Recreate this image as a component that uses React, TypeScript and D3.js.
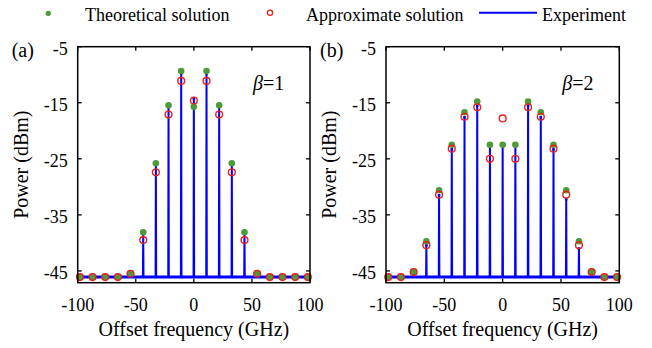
import React from 'react';
import * as d3 from 'd3';

// comb line offsets (GHz), n = -9..9
const freqs = [-98.1, -87.2, -76.3, -65.4, -54.5, -43.6, -32.7, -21.8, -10.9, 0, 10.9, 21.8, 32.7, 43.6, 54.5, 65.4, 76.3, 87.2, 98.1];

// beta = 1
const theoryA = [-46.1, -46.1, -46.1, -46.1, -45.4, -38.1, -25.8, -15.45, -9.33, -15.7, -9.33, -15.45, -25.8, -38.1, -45.4, -46.1, -46.1, -46.1, -46.1];
const approxA = [-46.1, -46.1, -46.1, -46.1, -45.5, -39.5, -27.4, -17.1, -11.1, -14.6, -11.1, -17.1, -27.4, -39.5, -45.5, -46.1, -46.1, -46.1, -46.1];
const experA = [-46.1, -46.1, -46.1, -46.1, -45.6, -38.4, -26.1, -15.6, -9.75, -14.2, -9.75, -15.6, -26.1, -38.4, -45.6, -46.1, -46.1, -46.1, -46.1];

// beta = 2
const theoryB = [-46.1, -46.1, -45.1, -39.7, -30.6, -22.5, -16.7, -14.8, -22.5, -22.5, -22.5, -14.8, -16.7, -22.5, -30.6, -39.7, -45.1, -46.1, -46.1];
const approxB = [-46.1, -46.1, -45.2, -40.4, -31.4, -23.2, -17.5, -15.8, -25.0, -17.8, -25.0, -15.8, -17.5, -23.2, -31.4, -40.4, -45.2, -46.1, -46.1];
const experB = [-46.1, -46.1, -45.4, -40.4, -31.5, -23.3, -17.6, -15.5, -22.6, -22.6, -22.6, -15.5, -17.6, -23.3, -32.2, -41.0, -45.4, -46.1, -46.1];

const noiseFloor = -46.1;
const xTicks = [-100, -50, 0, 50, 100];
const yTicks = [-5, -15, -25, -35, -45];

const GREEN = '#4c9a38';
const RED = '#e8201c';
const BLUE = '#0000ff';
const FONT = '"Liberation Serif", "Times New Roman", serif';

const top = 46.7;
const bottom = 282.7;

interface PanelProps {
  x0: number;
  x1: number;
  label: string;
  beta: string;
  theory: number[];
  approx: number[];
  exper: number[];
}

const Panel: React.FC<PanelProps> = ({ x0, x1, label, beta, theory, approx, exper }) => {
  const x = d3.scaleLinear().domain([-100, 100]).range([x0, x1]);
  const y = d3.scaleLinear().domain([-47.1, -5]).range([bottom, top]);

  const line = d3.line<[number, number]>().x(d => x(d[0])).y(d => y(d[1]));
  const spikePts: [number, number][] = [];
  freqs.forEach((f, i) => {
    spikePts.push([f - 0.25, noiseFloor], [f, exper[i]], [f + 0.25, noiseFloor]);
  });

  const tl = 4;
  return (
    <g>
      {/* experiment */}
      <line x1={x(-100)} x2={x(100)} y1={y(noiseFloor)} y2={y(noiseFloor)} stroke={BLUE} strokeWidth={3} />
      <path d={line(spikePts) ?? ''} fill="none" stroke={BLUE} strokeWidth={2} />
      {freqs.map((f, i) => exper[i] > noiseFloor + 0.6 ? (
        <rect key={'m' + i} x={x(f) - 1.3} y={y(exper[i]) - 1.3} width={2.6} height={2.6} fill={BLUE} />
      ) : null)}
      {/* theory */}
      {freqs.map((f, i) => (
        <circle key={'g' + i} cx={x(f)} cy={y(theory[i])} r={3.3} fill={GREEN} />
      ))}
      {/* approximation */}
      {freqs.map((f, i) => (
        <circle key={'r' + i} cx={x(f)} cy={y(approx[i])} r={3.4} fill="none" stroke={RED} strokeWidth={1.4} />
      ))}

      {/* frame */}
      <rect x={x0} y={top} width={x1 - x0} height={bottom - top} fill="none" stroke="#000" strokeWidth={1.5} />
      {xTicks.map(t => (
        <g key={'xt' + t}>
          <line x1={x(t)} x2={x(t)} y1={bottom} y2={bottom - tl} stroke="#000" strokeWidth={1.3} />
          <line x1={x(t)} x2={x(t)} y1={top} y2={top + tl} stroke="#000" strokeWidth={1.3} />
          <text x={x(t)} y={310.5} textAnchor="middle" fontSize={18} fontFamily={FONT}>{t}</text>
        </g>
      ))}
      {yTicks.map(t => (
        <g key={'yt' + t}>
          <line x1={x0} x2={x0 + tl} y1={y(t)} y2={y(t)} stroke="#000" strokeWidth={1.3} />
          <line x1={x1} x2={x1 - tl} y1={y(t)} y2={y(t)} stroke="#000" strokeWidth={1.3} />
          <text x={x0 - 10} y={y(t) + 8.5} textAnchor="end" fontSize={18} fontFamily={FONT}>{t}</text>
        </g>
      ))}

      <text x={(x0 + x1) / 2} y={336} textAnchor="middle" fontSize={20} fontFamily={FONT}>Offset frequency (GHz)</text>
      <text transform={`translate(${x0 - 50},${(top + bottom) / 2}) rotate(-90)`} textAnchor="middle" fontSize={20} fontFamily={FONT}>Power (dBm)</text>
      <text x={x0 - 66} y={57} fontSize={20} fontFamily={FONT}>{label}</text>
      <text x={x1 - 57} y={90} fontSize={20} fontFamily={FONT}>
        <tspan fontStyle="italic">β</tspan>={beta}
      </text>
    </g>
  );
};

const App: React.FC = () => {
  return (
    <svg width={652} height={348} style={{ position: 'absolute', left: 0, top: 0, background: '#fff' }}>
      <rect width={652} height={348} fill="#fff" />
      {/* legend */}
      <circle cx={48.3} cy={13.3} r={2.6} fill={GREEN} />
      <text x={85} y={20.5} fontSize={18} fontFamily={FONT}>Theoretical solution</text>
      <circle cx={270} cy={12.7} r={2.6} fill="none" stroke={RED} strokeWidth={1.3} />
      <text x={306} y={20.5} fontSize={18} fontFamily={FONT}>Approximate solution</text>
      <line x1={479} x2={537} y1={12.7} y2={12.7} stroke={BLUE} strokeWidth={2} />
      <text x={542} y={20.5} fontSize={18} fontFamily={FONT}>Experiment</text>

      <Panel x0={77.7} x1={310} label="(a)" beta="1" theory={theoryA} approx={approxA} exper={experA} />
      <Panel x0={386} x1={619.3} label="(b)" beta="2" theory={theoryB} approx={approxB} exper={experB} />
    </svg>
  );
};

export default App;
